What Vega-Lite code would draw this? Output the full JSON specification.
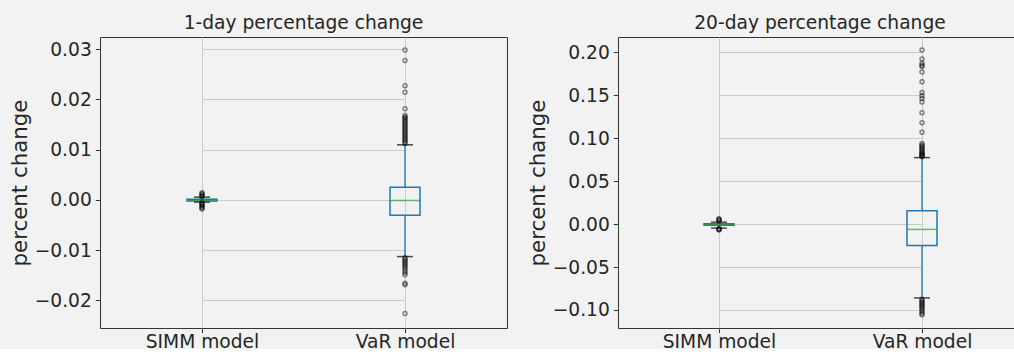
{
  "$schema": "https://vega.github.io/schema/vega-lite/v6.json",
  "background": "#f2f2f2",
  "padding": {"left": 8, "top": 13, "right": 0, "bottom": -3},
  "spacing": 18,
  "config": {
    "font": "DejaVu Sans",
    "view": {"stroke": "#333333", "strokeWidth": 1, "fill": "#f2f2f2"},
    "axis": {
      "grid": true, "gridColor": "#cbcbcb", "gridWidth": 1, "domain": false,
      "tickColor": "#333333", "tickSize": 4.7, "tickWidth": 1,
      "labelFontSize": 18.67, "labelColor": "#262626", "labelPadding": 4,
      "titleFontSize": 21.33, "titleFontWeight": "normal", "titleColor": "#262626", "titlePadding": 4
    },
    "title": {"fontSize": 18.67, "fontWeight": "normal", "color": "#262626", "offset": 4}
  },
  "datasets": {
    "stats": [
      {"period": "1-day", "model": "SIMM model", "lower": -0.00046, "q1": -0.00022, "median": -0.00014, "q3": 0.0001, "upper": 0.00054},
      {"period": "1-day", "model": "VaR model", "lower": -0.01129, "q1": -0.00305, "median": -0.00013, "q3": 0.00252, "upper": 0.01095},
      {"period": "20-day", "model": "SIMM model", "lower": -0.0047, "q1": -0.0014, "median": -0.0008, "q3": 0.0004, "upper": 0.0023},
      {"period": "20-day", "model": "VaR model", "lower": -0.086, "q1": -0.0249, "median": -0.0062, "q3": 0.0156, "upper": 0.0774}
    ],
    "fliers": [
      {"period": "1-day", "model": "SIMM model", "value": 0.0006},
      {"period": "1-day", "model": "SIMM model", "value": 0.0008},
      {"period": "1-day", "model": "SIMM model", "value": 0.001},
      {"period": "1-day", "model": "SIMM model", "value": 0.0012},
      {"period": "1-day", "model": "SIMM model", "value": 0.0014},
      {"period": "1-day", "model": "SIMM model", "value": -0.0006},
      {"period": "1-day", "model": "SIMM model", "value": -0.0008},
      {"period": "1-day", "model": "SIMM model", "value": -0.001},
      {"period": "1-day", "model": "SIMM model", "value": -0.0012},
      {"period": "1-day", "model": "SIMM model", "value": -0.0014},
      {"period": "1-day", "model": "SIMM model", "value": -0.0016},
      {"period": "1-day", "model": "SIMM model", "value": -0.0018},
      {"period": "1-day", "model": "VaR model", "value": 0.0298},
      {"period": "1-day", "model": "VaR model", "value": 0.0277},
      {"period": "1-day", "model": "VaR model", "value": 0.0227},
      {"period": "1-day", "model": "VaR model", "value": 0.0214},
      {"period": "1-day", "model": "VaR model", "value": 0.0181},
      {"period": "1-day", "model": "VaR model", "value": 0.0168},
      {"period": "1-day", "model": "VaR model", "value": 0.0165},
      {"period": "1-day", "model": "VaR model", "value": 0.0163},
      {"period": "1-day", "model": "VaR model", "value": 0.016},
      {"period": "1-day", "model": "VaR model", "value": 0.0157},
      {"period": "1-day", "model": "VaR model", "value": 0.0154},
      {"period": "1-day", "model": "VaR model", "value": 0.0151},
      {"period": "1-day", "model": "VaR model", "value": 0.0148},
      {"period": "1-day", "model": "VaR model", "value": 0.0145},
      {"period": "1-day", "model": "VaR model", "value": 0.0142},
      {"period": "1-day", "model": "VaR model", "value": 0.0139},
      {"period": "1-day", "model": "VaR model", "value": 0.0136},
      {"period": "1-day", "model": "VaR model", "value": 0.0133},
      {"period": "1-day", "model": "VaR model", "value": 0.013},
      {"period": "1-day", "model": "VaR model", "value": 0.0127},
      {"period": "1-day", "model": "VaR model", "value": 0.0124},
      {"period": "1-day", "model": "VaR model", "value": 0.0121},
      {"period": "1-day", "model": "VaR model", "value": 0.0118},
      {"period": "1-day", "model": "VaR model", "value": 0.0115},
      {"period": "1-day", "model": "VaR model", "value": 0.0112},
      {"period": "1-day", "model": "VaR model", "value": -0.0115},
      {"period": "1-day", "model": "VaR model", "value": -0.0118},
      {"period": "1-day", "model": "VaR model", "value": -0.0121},
      {"period": "1-day", "model": "VaR model", "value": -0.0124},
      {"period": "1-day", "model": "VaR model", "value": -0.0127},
      {"period": "1-day", "model": "VaR model", "value": -0.013},
      {"period": "1-day", "model": "VaR model", "value": -0.0133},
      {"period": "1-day", "model": "VaR model", "value": -0.0137},
      {"period": "1-day", "model": "VaR model", "value": -0.0141},
      {"period": "1-day", "model": "VaR model", "value": -0.0145},
      {"period": "1-day", "model": "VaR model", "value": -0.0149},
      {"period": "1-day", "model": "VaR model", "value": -0.0166},
      {"period": "1-day", "model": "VaR model", "value": -0.0169},
      {"period": "1-day", "model": "VaR model", "value": -0.0226},
      {"period": "20-day", "model": "SIMM model", "value": 0.0035},
      {"period": "20-day", "model": "SIMM model", "value": 0.0045},
      {"period": "20-day", "model": "SIMM model", "value": 0.0055},
      {"period": "20-day", "model": "SIMM model", "value": 0.0062},
      {"period": "20-day", "model": "SIMM model", "value": -0.0052},
      {"period": "20-day", "model": "SIMM model", "value": -0.0058},
      {"period": "20-day", "model": "SIMM model", "value": -0.0064},
      {"period": "20-day", "model": "SIMM model", "value": -0.007},
      {"period": "20-day", "model": "VaR model", "value": 0.2027},
      {"period": "20-day", "model": "VaR model", "value": 0.1922},
      {"period": "20-day", "model": "VaR model", "value": 0.1872},
      {"period": "20-day", "model": "VaR model", "value": 0.1848},
      {"period": "20-day", "model": "VaR model", "value": 0.1835},
      {"period": "20-day", "model": "VaR model", "value": 0.177},
      {"period": "20-day", "model": "VaR model", "value": 0.1658},
      {"period": "20-day", "model": "VaR model", "value": 0.1533},
      {"period": "20-day", "model": "VaR model", "value": 0.1494},
      {"period": "20-day", "model": "VaR model", "value": 0.1463},
      {"period": "20-day", "model": "VaR model", "value": 0.142},
      {"period": "20-day", "model": "VaR model", "value": 0.1296},
      {"period": "20-day", "model": "VaR model", "value": 0.1179},
      {"period": "20-day", "model": "VaR model", "value": 0.107},
      {"period": "20-day", "model": "VaR model", "value": 0.0938},
      {"period": "20-day", "model": "VaR model", "value": 0.092},
      {"period": "20-day", "model": "VaR model", "value": 0.0905},
      {"period": "20-day", "model": "VaR model", "value": 0.089},
      {"period": "20-day", "model": "VaR model", "value": 0.0875},
      {"period": "20-day", "model": "VaR model", "value": 0.086},
      {"period": "20-day", "model": "VaR model", "value": 0.0845},
      {"period": "20-day", "model": "VaR model", "value": 0.083},
      {"period": "20-day", "model": "VaR model", "value": 0.082},
      {"period": "20-day", "model": "VaR model", "value": 0.081},
      {"period": "20-day", "model": "VaR model", "value": 0.08},
      {"period": "20-day", "model": "VaR model", "value": 0.0792},
      {"period": "20-day", "model": "VaR model", "value": 0.0785},
      {"period": "20-day", "model": "VaR model", "value": -0.0875},
      {"period": "20-day", "model": "VaR model", "value": -0.089},
      {"period": "20-day", "model": "VaR model", "value": -0.0905},
      {"period": "20-day", "model": "VaR model", "value": -0.092},
      {"period": "20-day", "model": "VaR model", "value": -0.0935},
      {"period": "20-day", "model": "VaR model", "value": -0.095},
      {"period": "20-day", "model": "VaR model", "value": -0.0965},
      {"period": "20-day", "model": "VaR model", "value": -0.098},
      {"period": "20-day", "model": "VaR model", "value": -0.1},
      {"period": "20-day", "model": "VaR model", "value": -0.102},
      {"period": "20-day", "model": "VaR model", "value": -0.104},
      {"period": "20-day", "model": "VaR model", "value": -0.1055}
    ]
  },
  "resolve": {"scale": {"x": "independent", "y": "independent"}},
  "hconcat": [
    {
      "title": "1-day percentage change",
      "width": 407,
      "height": 291,
      "encoding": {
        "x": {"field": "model", "type": "nominal", "scale": {"type": "point", "range": [102, 305], "padding": 0}, "axis": {"title": null, "labelAngle": 0, "labelPadding": 0}}
      },
      "layer": [
        {
          "data": {"name": "stats"},
          "transform": [{"filter": "datum.period == '1-day'"}],
          "layer": [
            {"mark": {"type": "rule", "color": "#1f77b4", "strokeWidth": 1.3},
             "encoding": {"y": {"field": "lower", "type": "quantitative", "scale": {"domain": [-0.0255, 0.0324], "nice": false, "zero": false}, "axis": {"title": "percent change", "values": [-0.02, -0.01, 0, 0.01, 0.02, 0.03], "format": ".2f"}}, "y2": {"field": "q1"}}},
            {"mark": {"type": "rule", "color": "#1f77b4", "strokeWidth": 1.3},
             "encoding": {"y": {"field": "q3", "type": "quantitative"}, "y2": {"field": "upper"}}},
            {"mark": {"type": "bar", "width": 30, "fillOpacity": 0, "stroke": "#1f77b4", "strokeWidth": 1.5},
             "encoding": {"y": {"field": "q1", "type": "quantitative"}, "y2": {"field": "q3"}}},
            {"mark": {"type": "tick", "color": "#000000", "size": 16, "thickness": 1.5},
             "encoding": {"y": {"field": "lower", "type": "quantitative"}}},
            {"mark": {"type": "tick", "color": "#000000", "size": 16, "thickness": 1.5},
             "encoding": {"y": {"field": "upper", "type": "quantitative"}}},
            {"mark": {"type": "tick", "color": "#2ca02c", "size": 30, "thickness": 1.5},
             "encoding": {"y": {"field": "median", "type": "quantitative"}}}
          ]
        },
        {
          "data": {"name": "fliers"},
          "transform": [{"filter": "datum.period == '1-day'"}],
          "mark": {"type": "point", "shape": "circle", "filled": false, "stroke": "#000000", "strokeOpacity": 0.65, "strokeWidth": 1.5, "size": 16},
          "encoding": {"y": {"field": "value", "type": "quantitative"}}
        }
      ]
    },
    {
      "title": "20-day percentage change",
      "width": 404,
      "height": 291,
      "encoding": {
        "x": {"field": "model", "type": "nominal", "scale": {"type": "point", "range": [101, 304], "padding": 0}, "axis": {"title": null, "labelAngle": 0, "labelPadding": 0}}
      },
      "layer": [
        {
          "data": {"name": "stats"},
          "transform": [{"filter": "datum.period == '20-day'"}],
          "layer": [
            {"mark": {"type": "rule", "color": "#1f77b4", "strokeWidth": 1.3},
             "encoding": {"y": {"field": "lower", "type": "quantitative", "scale": {"domain": [-0.121, 0.2178], "nice": false, "zero": false}, "axis": {"title": "percent change", "values": [-0.1, -0.05, 0, 0.05, 0.1, 0.15, 0.2], "format": ".2f"}}, "y2": {"field": "q1"}}},
            {"mark": {"type": "rule", "color": "#1f77b4", "strokeWidth": 1.3},
             "encoding": {"y": {"field": "q3", "type": "quantitative"}, "y2": {"field": "upper"}}},
            {"mark": {"type": "bar", "width": 30, "fillOpacity": 0, "stroke": "#1f77b4", "strokeWidth": 1.5},
             "encoding": {"y": {"field": "q1", "type": "quantitative"}, "y2": {"field": "q3"}}},
            {"mark": {"type": "tick", "color": "#000000", "size": 16, "thickness": 1.5},
             "encoding": {"y": {"field": "lower", "type": "quantitative"}}},
            {"mark": {"type": "tick", "color": "#000000", "size": 16, "thickness": 1.5},
             "encoding": {"y": {"field": "upper", "type": "quantitative"}}},
            {"mark": {"type": "tick", "color": "#2ca02c", "size": 30, "thickness": 1.5},
             "encoding": {"y": {"field": "median", "type": "quantitative"}}}
          ]
        },
        {
          "data": {"name": "fliers"},
          "transform": [{"filter": "datum.period == '20-day'"}],
          "mark": {"type": "point", "shape": "circle", "filled": false, "stroke": "#000000", "strokeOpacity": 0.65, "strokeWidth": 1.5, "size": 16},
          "encoding": {"y": {"field": "value", "type": "quantitative"}}
        }
      ]
    }
  ]
}
